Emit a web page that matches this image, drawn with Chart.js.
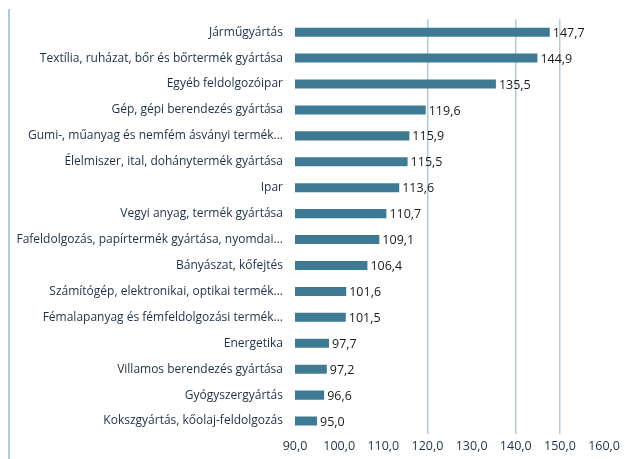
<!DOCTYPE html>
<html lang="hu">
<head>
<meta charset="utf-8">
<title>Ágazatok</title>
<script src="https://cdn.jsdelivr.net/npm/chart.js@4.4.1/dist/chart.umd.min.js"></script>
<style>
    html, body { margin: 0; padding: 0; background: #fff; }
    #wrap { position: relative; width: 625px; height: 459px; }
    #frame { position: absolute; left: 8px; top: 9px; bottom: 0; width: 2px; background: #b3cadb; }
</style>
</head>
<body>
<div id="wrap">
    <div id="frame"></div>
    <canvas id="chart" width="625" height="459"></canvas>
</div>
<script>
(function() {
    'use strict';

    const categories = [
        'Járműgyártás',
        'Textília, ruházat, bőr és bőrtermék gyártása',
        'Egyéb feldolgozóipar',
        'Gép, gépi berendezés gyártása',
        'Gumi-, műanyag és nemfém ásványi termék...',
        'Élelmiszer, ital, dohánytermék gyártása',
        'Ipar',
        'Vegyi anyag, termék gyártása',
        'Fafeldolgozás, papírtermék gyártása, nyomdai...',
        'Bányászat, kőfejtés',
        'Számítógép, elektronikai, optikai termék...',
        'Fémalapanyag és fémfeldolgozási termék...',
        'Energetika',
        'Villamos berendezés gyártása',
        'Gyógyszergyártás',
        'Kokszgyártás, kőolaj-feldolgozás'
    ];
    const values = [147.7, 144.9, 135.5, 119.6, 115.9, 115.5, 113.6, 110.7, 109.1, 106.4, 101.6, 101.5, 97.7, 97.2, 96.6, 95.0];

    const axisMin = 90;
    const axisMax = 160;
    const axisStep = 10;
    // only these grid lines survive in the reference picture
    const visibleGrid = [120, 140, 150];

    const fmt = v => v.toFixed(1).replace('.', ',');
    const textColor = '#1d3047';
    const fontFamily = '"Open Sans", Arial, sans-serif';

    const valueLabels = {
        id: 'valueLabels',
        afterDatasetsDraw(chart) {
            const ctx = chart.ctx;
            const meta = chart.getDatasetMeta(0);
            ctx.save();
            ctx.font = '12.5px ' + fontFamily;
            ctx.fillStyle = '#1a1a1a';
            ctx.textAlign = 'left';
            ctx.textBaseline = 'middle';
            meta.data.forEach((bar, i) => {
                ctx.fillText(fmt(values[i]), bar.x + 3, bar.y + 1);
            });
            ctx.restore();
        }
    };

    new Chart(document.getElementById('chart'), {
        type: 'bar',
        data: {
            labels: categories,
            datasets: [{
                data: values,
                backgroundColor: '#3e7a93',
                categoryPercentage: 1,
                barPercentage: 0.35
            }]
        },
        options: {
            indexAxis: 'y',
            responsive: false,
            animation: false,
            layout: { padding: { top: 17, right: 18, left: 0, bottom: 0 } },
            plugins: {
                legend: { display: false },
                tooltip: { enabled: false }
            },
            scales: {
                x: {
                    min: axisMin,
                    max: axisMax,
                    ticks: {
                        stepSize: axisStep,
                        callback: v => fmt(v),
                        color: textColor,
                        font: { family: fontFamily, size: 12.5 },
                        padding: 5
                    },
                    grid: {
                        color: c => visibleGrid.includes(c.tick && c.tick.value) ? '#b3cadb' : 'rgba(0,0,0,0)',
                        lineWidth: 1.5,
                        drawTicks: false
                    },
                    border: { display: false },
                    afterFit: s => { s.height = 25; }
                },
                y: {
                    ticks: {
                        color: textColor,
                        font: { family: fontFamily, size: 12 },
                        padding: 12,
                        autoSkip: false
                    },
                    grid: { display: false, drawTicks: false },
                    border: { display: false },
                    afterFit: s => { s.width = 295; }
                }
            }
        },
        plugins: [valueLabels]
    });
})();
</script>
</body>
</html>
